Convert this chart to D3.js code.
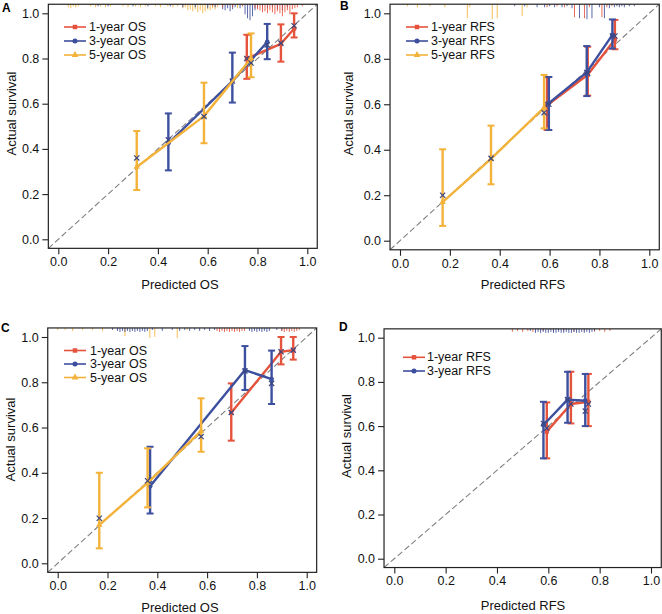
<!DOCTYPE html>
<html><head><meta charset="utf-8">
<script src="https://cdn.jsdelivr.net/npm/d3@7"></script>
<style>body{margin:0;background:#fff}svg{display:block;font-family:"Liberation Sans",Arial,sans-serif}</style>
</head><body><svg id="c" width="662" height="614"></svg>
<script>
// ---------- data ----------
const tickVals = [0, 0.2, 0.4, 0.6, 0.8, 1.0];
const seriesOS = ["1-year OS", "3-year OS", "5-year OS"];
const seriesRFS = ["1-year RFS", "3-year RFS", "5-year RFS"];

// Panel A (OS)
const A1_pred = [0.757, 0.894, 0.947], A1_obs = [0.80, 0.865, 0.932], A1_lo = [0.71, 0.786, 0.893], A1_hi = [0.905, 0.951, 1.0], A1_cor = [0.80, 0.868, 0.945];
const A3_pred = [0.442, 0.699, 0.839], A3_obs = [0.425, 0.70, 0.873], A3_lo = [0.305, 0.605, 0.797], A3_hi = [0.557, 0.826, 0.953], A3_cor = [0.44, 0.70, 0.86];
const A5_pred = [0.315, 0.585, 0.774], A5_obs = [0.32, 0.545, 0.80], A5_lo = [0.218, 0.425, 0.717], A5_hi = [0.479, 0.693, 0.911], A5_cor = [0.36, 0.543, 0.78];
// Panel B (RFS)
const B1_pred = [0.59, 0.753, 0.862], B1_obs = [0.595, 0.73, 0.885], B1_lo = [0.487, 0.638, 0.842], B1_hi = [0.719, 0.853, 0.971], B1_cor = [0.60, 0.735, 0.90];
const B3_pred = [0.597, 0.749, 0.852], B3_obs = [0.605, 0.74, 0.905], B3_lo = [0.487, 0.636, 0.845], B3_hi = [0.72, 0.856, 0.973], B3_cor = [0.60, 0.74, 0.90];
const B5_pred = [0.171, 0.365, 0.578], B5_obs = [0.17, 0.36, 0.585], B5_lo = [0.065, 0.248, 0.494], B5_hi = [0.402, 0.506, 0.729], B5_cor = [0.20, 0.362, 0.563];
// Panel C (OS)
const C1_pred = [0.697, 0.897, 0.946], C1_obs = [0.665, 0.935, 0.942], C1_lo = [0.542, 0.879, 0.90], C1_hi = [0.795, 1.0, 1.0], C1_cor = [0.666, 0.935, 0.942];
const C3_pred = [0.371, 0.752, 0.859], C3_obs = [0.34, 0.854, 0.814], C3_lo = [0.22, 0.766, 0.704], C3_hi = [0.515, 0.96, 0.94], C3_cor = [0.368, 0.85, 0.795];
const C5_pred = [0.167, 0.361, 0.576], C5_obs = [0.17, 0.355, 0.585], C5_lo = [0.066, 0.247, 0.493], C5_hi = [0.40, 0.508, 0.729], C5_cor = [0.199, 0.365, 0.56];
// Panel D (RFS)
const D1_pred = [0.594, 0.688, 0.756], D1_obs = [0.575, 0.70, 0.71], D1_lo = [0.454, 0.612, 0.60], D1_hi = [0.707, 0.846, 0.836], D1_cor = [0.59, 0.70, 0.70];
const D3_pred = [0.581, 0.675, 0.744], D3_obs = [0.605, 0.72, 0.715], D3_lo = [0.454, 0.615, 0.60], D3_hi = [0.71, 0.846, 0.836], D3_cor = [0.612, 0.72, 0.668];

// risk distribution spikes at top: [predicted, frequency]
const rugA1 = [[0.62,2],[0.66,3],[0.7,3],[0.74,2],[0.79,4],[0.8,5],[0.81,6],[0.82,8],[0.83,7],[0.84,9],[0.85,6],[0.86,8],[0.87,10],[0.88,7],[0.89,9],[0.9,12],[0.91,8],[0.92,6],[0.93,10],[0.94,5],[0.95,4],[0.96,3],[0.98,2]];
const rugA3 = [[0.16,2],[0.2,2],[0.3,2],[0.36,2],[0.45,2],[0.5,3],[0.55,3],[0.6,4],[0.63,3],[0.66,5],[0.67,6],[0.68,4],[0.69,7],[0.7,5],[0.71,3],[0.73,4],[0.75,10],[0.76,14],[0.77,16],[0.78,12],[0.79,6],[0.8,4],[0.82,3],[0.84,4],[0.86,3],[0.88,5],[0.9,6],[0.92,3]];
const rugA5 = [[0.04,3],[0.05,4],[0.06,2],[0.07,3],[0.08,2],[0.13,2],[0.15,3],[0.17,2],[0.19,3],[0.21,2],[0.26,2],[0.28,3],[0.31,2],[0.33,3],[0.35,2],[0.39,2],[0.41,3],[0.44,2],[0.46,3],[0.48,2],[0.5,4],[0.51,3],[0.52,6],[0.53,5],[0.54,7],[0.55,5],[0.56,8],[0.57,6],[0.58,9],[0.59,7],[0.6,5],[0.61,6],[0.62,4],[0.63,5],[0.64,3],[0.7,3],[0.72,4],[0.74,2]];
const rugB1 = [[0.59,3],[0.63,2],[0.66,3],[0.7,13],[0.74,14],[0.76,3],[0.81,13],[0.83,3],[0.85,2]];
const rugB3 = [[0.46,2],[0.5,2],[0.55,3],[0.58,3],[0.6,2],[0.62,3],[0.65,3],[0.67,2],[0.69,4],[0.72,14],[0.75,15],[0.77,14],[0.8,3],[0.82,14],[0.84,4],[0.86,3],[0.87,2],[0.88,3],[0.89,2],[0.9,3],[0.92,2],[0.94,2]];
const rugB5 = [[0.03,2],[0.07,3],[0.12,2],[0.18,3],[0.27,14],[0.28,3],[0.37,15],[0.39,14],[0.49,12],[0.51,3]];
const rugC1 = [[0.64,3],[0.65,4],[0.66,3],[0.67,4],[0.68,3],[0.69,4],[0.7,3],[0.71,4],[0.72,3],[0.73,4],[0.74,3],[0.75,3],[0.9,3],[0.91,4],[0.92,3],[0.93,4],[0.94,3],[0.95,4],[0.96,3],[0.97,2]];
const rugC3 = [[0.22,2],[0.24,3],[0.25,4],[0.26,3],[0.27,4],[0.28,3],[0.29,4],[0.3,3],[0.31,4],[0.32,3],[0.33,4],[0.34,3],[0.35,4],[0.36,3],[0.38,2],[0.42,3],[0.46,2],[0.49,3],[0.51,2],[0.53,3],[0.55,2],[0.57,3],[0.59,2],[0.61,3],[0.63,2],[0.77,3],[0.78,4],[0.79,3],[0.8,4],[0.81,3],[0.82,4],[0.83,3],[0.84,4],[0.85,3],[0.88,2],[0.9,3]];
const rugC5 = [[0.0,2],[0.03,2],[0.06,3],[0.1,2],[0.14,2],[0.18,3],[0.27,8],[0.37,10],[0.39,9],[0.48,10],[0.52,2]];
const rugD1 = [[0.46,3],[0.48,2],[0.5,3],[0.52,2],[0.54,3],[0.58,2],[0.62,3],[0.66,2],[0.7,3],[0.74,2],[0.78,3],[0.8,2],[0.82,3],[0.84,2]];
const rugD3 = [[0.53,2],[0.55,4],[0.56,3],[0.57,4],[0.58,3],[0.59,4],[0.6,4],[0.61,3],[0.62,4],[0.63,4],[0.64,3],[0.65,4],[0.66,4],[0.67,3],[0.68,4],[0.69,4],[0.7,3],[0.71,4],[0.72,4],[0.73,3],[0.74,4],[0.75,3],[0.76,4],[0.77,3],[0.78,2]];

// ---------- style / layout ----------
const COL = ["#e5533c", "#3d4f9f", "#f3b23a"];
const SHAPES = [d3.symbolSquare, d3.symbolCircle, d3.symbolTriangle];
const XCOL = "#3b4780";

const mk = (pred, obs, lo, hi, cor) => pred.map((p, i) => ({p, o: obs[i], lo: lo[i], hi: hi[i], c: cor[i]}));

const panels = [
  {label:"A", lab:[2,12], xr:[58.3,307.3], yr:[239.3,13.3], xt:"Predicted OS", xtp:[180,289], ytp:[11,113.5],
   names: seriesOS, leg:[64,89,[27,41,55]],
   series:[mk(A1_pred,A1_obs,A1_lo,A1_hi,A1_cor), mk(A3_pred,A3_obs,A3_lo,A3_hi,A3_cor), mk(A5_pred,A5_obs,A5_lo,A5_hi,A5_cor)],
   rugs:[rugA5, rugA3, rugA1], rugCols:[2,1,0]},
  {label:"B", lab:[340,10], xr:[400,649.3], yr:[240.7,13.3], xt:"Predicted RFS", xtp:[523,288.5], ytp:[348.5,113.5],
   names: seriesRFS, leg:[406,431,[27,41,55]],
   series:[mk(B1_pred,B1_obs,B1_lo,B1_hi,B1_cor), mk(B3_pred,B3_obs,B3_lo,B3_hi,B3_cor), mk(B5_pred,B5_obs,B5_lo,B5_hi,B5_cor)],
   rugs:[rugB5, rugB3, rugB1], rugCols:[2,1,0]},
  {label:"C", lab:[1,332], xr:[57.7,306.7], yr:[563.3,337], xt:"Predicted OS", xtp:[180,612], ytp:[10,439.5],
   names: seriesOS, leg:[64,90,[350.5,364,377.5]],
   series:[mk(C1_pred,C1_obs,C1_lo,C1_hi,C1_cor), mk(C3_pred,C3_obs,C3_lo,C3_hi,C3_cor), mk(C5_pred,C5_obs,C5_lo,C5_hi,C5_cor)],
   rugs:[rugC5, rugC3, rugC1], rugCols:[2,1,0]},
  {label:"D", lab:[339,331], xr:[394.3,651], yr:[558.7,337.7], xt:"Predicted RFS", xtp:[523,609.5], ytp:[346,436],
   names: seriesRFS.slice(0,2), leg:[403,427,[357.3,371]],
   series:[mk(D1_pred,D1_obs,D1_lo,D1_hi,D1_cor), mk(D3_pred,D3_obs,D3_lo,D3_hi,D3_cor)],
   rugs:[rugD1, rugD3], rugCols:[0,1]}
];

const svg = d3.select("#c");
const fmt = d3.format(".1f");

panels.forEach((P, pi) => {
  const x = d3.scaleLinear().domain([0,1]).range(P.xr);
  const y = d3.scaleLinear().domain([0,1]).range(P.yr);
  const bx0 = x(-0.04), bx1 = x(1.04), by0 = y(-0.04), by1 = y(1.04);
  const g = svg.append("g");
  const cid = "clip" + pi;
  g.append("clipPath").attr("id", cid).append("rect")
    .attr("x", bx0).attr("y", by1).attr("width", bx1 - bx0).attr("height", by0 - by1);

  // rug spikes
  const h = d3.scaleLinear().domain([0, 16]).range([0, 16]);
  P.rugs.forEach((r, ri) => {
    g.append("g").selectAll("line").data(r).join("line")
      .attr("x1", d => x(d[0])).attr("x2", d => x(d[0]))
      .attr("y1", by1).attr("y2", d => by1 + h(d[1]))
      .attr("stroke", COL[P.rugCols[ri]]).attr("stroke-width", 1).attr("opacity", 0.85);
  });

  // diagonal
  g.append("line").attr("clip-path", `url(#${cid})`)
    .attr("x1", x(-0.04)).attr("y1", y(-0.04)).attr("x2", x(1.04)).attr("y2", y(1.04))
    .attr("stroke", "#808080").attr("stroke-width", 1.1).attr("stroke-dasharray", "6,3");

  // series
  P.series.forEach((s, si) => {
    const col = COL[si];
    const sg = g.append("g");
    sg.append("path").datum(s)
      .attr("d", d3.line().x(d => x(d.p)).y(d => y(d.o)))
      .attr("fill", "none").attr("stroke", col).attr("stroke-width", 2.4).attr("stroke-linejoin", "round");
    const eb = sg.selectAll("g.eb").data(s).join("g");
    eb.append("line").attr("x1", d => x(d.p)).attr("x2", d => x(d.p)).attr("y1", d => y(d.lo)).attr("y2", d => y(d.hi))
      .attr("stroke", col).attr("stroke-width", 2.4);
    ["lo", "hi"].forEach(k => {
      eb.append("line").attr("x1", d => x(d.p) - 3.5).attr("x2", d => x(d.p) + 3.5)
        .attr("y1", d => y(d[k])).attr("y2", d => y(d[k]))
        .attr("stroke", col).attr("stroke-width", 2);
    });
    sg.selectAll("path.pt").data(s).join("path").attr("class", "pt")
      .attr("transform", d => `translate(${x(d.p)},${y(d.o)})`)
      .attr("d", d3.symbol().type(SHAPES[si]).size(18)).attr("fill", col);
    // bias-corrected crosses
    const cx = sg.selectAll("g.cx").data(s).join("g")
      .attr("transform", d => `translate(${x(d.p)},${y(d.c)})`);
    cx.append("line").attr("x1", -2.6).attr("y1", -2.6).attr("x2", 2.6).attr("y2", 2.6).attr("stroke", XCOL).attr("stroke-width", 1.2);
    cx.append("line").attr("x1", -2.6).attr("y1", 2.6).attr("x2", 2.6).attr("y2", -2.6).attr("stroke", XCOL).attr("stroke-width", 1.2);
  });

  // box
  g.append("rect").attr("x", bx0).attr("y", by1).attr("width", bx1 - bx0).attr("height", by0 - by1)
    .attr("fill", "none").attr("stroke", "#222").attr("stroke-width", 1.2);

  // axes
  const ax = g.append("g").attr("transform", `translate(0,${by0})`)
    .call(d3.axisBottom(x).tickValues(tickVals).tickFormat(fmt).tickSize(6).tickPadding(3));
  const ay = g.append("g").attr("transform", `translate(${bx0},0)`)
    .call(d3.axisLeft(y).tickValues(tickVals).tickFormat(fmt).tickSize(6).tickPadding(3));
  [ax, ay].forEach(a => {
    a.select(".domain").remove();
    a.selectAll("line").attr("stroke", "#222").attr("stroke-width", 1.1);
    a.selectAll("text").attr("font-size", 12.5).attr("fill", "#111").attr("font-family", '"Liberation Sans",Arial,sans-serif');
  });

  // titles
  g.append("text").attr("x", P.xtp[0]).attr("y", P.xtp[1]).attr("text-anchor", "middle")
    .attr("font-size", 13).attr("fill", "#111").text(P.xt);
  g.append("text").attr("transform", `translate(${P.ytp[0]},${P.ytp[1]}) rotate(-90)`)
    .attr("text-anchor", "middle").attr("dominant-baseline", "central")
    .attr("font-size", 13).attr("fill", "#111").text("Actual survival");
  g.append("text").attr("x", P.lab[0]).attr("y", P.lab[1]).attr("font-size", 12).attr("font-weight", "bold").text(P.label);

  // legend
  const [lx, tx, rows] = P.leg;
  P.names.forEach((n, i) => {
    const yy = rows[i];
    g.append("line").attr("x1", lx).attr("x2", lx + 22).attr("y1", yy).attr("y2", yy)
      .attr("stroke", COL[i]).attr("stroke-width", 1.6);
    g.append("path").attr("transform", `translate(${lx + 11},${yy})`)
      .attr("d", d3.symbol().type(SHAPES[i]).size(20)).attr("fill", COL[i]);
    g.append("text").attr("x", tx).attr("y", yy).attr("dominant-baseline", "central")
      .attr("font-size", 12.5).attr("fill", "#111").text(n);
  });
});
</script></body></html>
